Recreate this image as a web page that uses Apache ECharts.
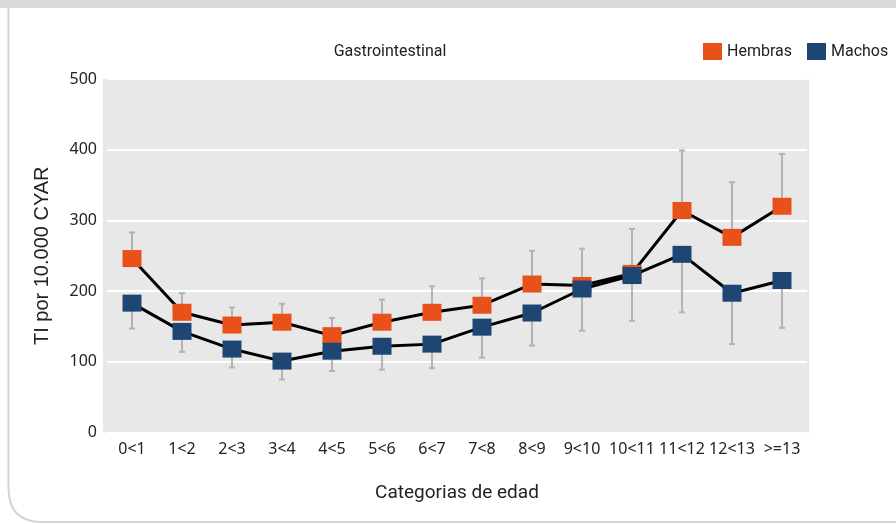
<!DOCTYPE html>
<html>
<head>
<meta charset="utf-8">
<script src="https://cdn.jsdelivr.net/npm/echarts@6/dist/echarts.min.js"></script>
<style>
  html, body { margin: 0; padding: 0; background: #fff; }
  #chart { width: 896px; height: 524px; }
</style>
</head>
<body>
<div id="chart"></div>
<script>
// Age categories (x axis)
const categories = ['0<1', '1<2', '2<3', '3<4', '4<5', '5<6', '6<7', '7<8', '8<9', '9<10', '10<11', '11<12', '12<13', '>=13'];

// Incidence rate per 10.000 CYAR
const hembras = [246, 170, 152, 156, 137, 156, 170, 180, 210, 208, 225, 314, 276, 320];
const machos  = [183, 143, 118, 101, 115, 122, 125, 149, 169, 203, 222, 252, 197, 215];

// Confidence limits: upper for Hembras, lower for Machos
const hembrasUpper = [283, 197, 177, 182, 162, 188, 207, 218, 257, 260, 288, 399, 354, 394];
const machosLower  = [147, 114, 92, 75, 87, 89, 91, 106, 123, 144, 158, 170, 125, 148];

const yTicks = [0, 100, 200, 300, 400, 500];

const ORANGE = '#e8521a';
const BLUE = '#1e4673';
const TEXT = '#222222';
const FRAME = '#d3d3d3';

const chart = echarts.init(document.getElementById('chart'));

function errorBarRenderer(api) {
  const i = api.value(0);
  const p0 = api.coord([i, api.value(1)]);
  const p1 = api.coord([i, api.value(2)]);
  const capHalf = 3;
  const style = { stroke: '#b3b3b3', lineWidth: 2 };
  return {
    type: 'group',
    children: [
      { type: 'line', shape: { x1: p0[0], y1: p0[1], x2: p1[0], y2: p1[1] }, style: style },
      { type: 'line', shape: { x1: p1[0] - capHalf, y1: p1[1], x2: p1[0] + capHalf, y2: p1[1] }, style: style }
    ]
  };
}

const option = {
  animation: false,
  backgroundColor: '#ffffff',
  textStyle: { fontFamily: 'Noto Sans' },
  graphic: [
    // frame: top band and rounded left border
    { type: 'rect', z: -20, shape: { x: 0, y: 0, width: 896, height: 8 }, style: { fill: '#d9d9d9' } },
    { type: 'line', z: -20, shape: { x1: 8.5, y1: 8, x2: 8.5, y2: 488 }, style: { stroke: FRAME, lineWidth: 2 } },
    { type: 'bezierCurve', z: -20, shape: { x1: 8.5, y1: 488, cpx1: 8.5, cpy1: 522, x2: 42, y2: 522 },
      style: { fill: null, stroke: FRAME, lineWidth: 2 } },
    { type: 'line', z: -20, shape: { x1: 42, y1: 522, x2: 896, y2: 522 }, style: { stroke: FRAME, lineWidth: 2 } },
    // plot background
    { type: 'rect', z: -10, shape: { x: 103, y: 79, width: 706, height: 353.5 }, style: { fill: '#e8e8e8' } },
    { type: 'text', z: 5, style: { text: 'Gastrointestinal', x: 390, y: 52, align: 'center', verticalAlign: 'middle',
      font: '16px Roboto', fill: TEXT } }
  ],
  legend: {
    orient: 'horizontal',
    left: 703,
    top: 43,
    padding: 0,
    itemWidth: 19,
    itemHeight: 17,
    itemGap: 15,
    icon: 'rect',
    textStyle: { fontFamily: 'Roboto', fontSize: 16, color: TEXT },
    data: ['Hembras', 'Machos']
  },
  grid: { left: 107, right: 89, top: 79, bottom: 91.5 },
  xAxis: {
    type: 'category',
    data: categories,
    boundaryGap: true,
    axisLine: { show: false },
    axisTick: { show: false },
    axisLabel: { color: TEXT, fontSize: 16, margin: 9, interval: 0 },
    name: 'Categorias de edad',
    nameLocation: 'middle',
    nameGap: 51,
    nameTextStyle: { fontFamily: 'Roboto', fontSize: 19, color: TEXT }
  },
  yAxis: {
    type: 'value',
    min: yTicks[0],
    max: yTicks[yTicks.length - 1],
    interval: 100,
    axisLine: { show: false },
    axisTick: { show: false },
    axisLabel: { color: TEXT, fontSize: 16, margin: 10 },
    splitLine: { lineStyle: { color: '#ffffff', width: 2 } },
    name: 'TI por 10.000 CYAR',
    nameLocation: 'middle',
    nameGap: 55,
    nameTextStyle: { fontFamily: 'Liberation Sans', fontSize: 20, color: TEXT }
  },
  series: [
    {
      type: 'custom',
      name: 'errH',
      z: 1,
      renderItem: (params, api) => errorBarRenderer(api),
      data: hembras.map((v, i) => [i, v, hembrasUpper[i]]),
      encode: { x: 0, y: [1, 2] }
    },
    {
      type: 'custom',
      name: 'errM',
      z: 1,
      renderItem: (params, api) => errorBarRenderer(api),
      data: machos.map((v, i) => [i, v, machosLower[i]]),
      encode: { x: 0, y: [1, 2] }
    },
    {
      type: 'line',
      name: 'Hembras',
      z: 3,
      data: hembras,
      symbol: 'rect',
      symbolSize: [19, 17],
      itemStyle: { color: ORANGE },
      lineStyle: { color: '#000000', width: 3 }
    },
    {
      type: 'line',
      name: 'Machos',
      z: 4,
      data: machos,
      symbol: 'rect',
      symbolSize: [19, 17],
      itemStyle: { color: BLUE },
      lineStyle: { color: '#000000', width: 3 }
    }
  ]
};

chart.setOption(option);
</script>
</body>
</html>
